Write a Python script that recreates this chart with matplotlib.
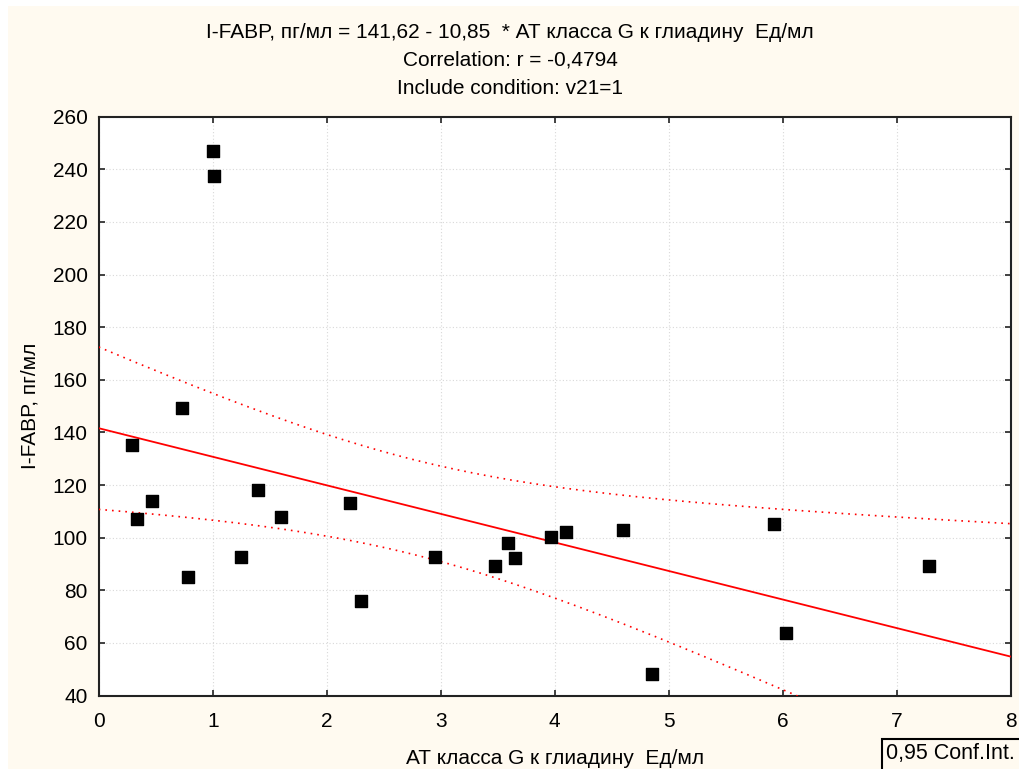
import numpy as np
import matplotlib
matplotlib.use("Agg")
import matplotlib.pyplot as plt
from matplotlib.patches import Rectangle

plt.rcParams['font.family'] = ['Liberation Sans', 'DejaVu Sans']

# data
at_gliadin = [1.00, 1.01, 0.73, 0.29, 0.34, 0.47, 0.78, 1.25, 1.40, 1.60, 2.20, 2.30,
              2.95, 3.48, 3.59, 3.65, 3.97, 4.10, 4.60, 4.85, 5.92, 6.03, 7.28]
ifabp = [246.9, 237.4, 149.3, 135.2, 107.1, 114.0, 85.1, 92.8, 118.1, 108.0, 113.1, 75.8,
         92.7, 89.4, 98.0, 92.4, 100.3, 102.0, 103.0, 48.2, 105.2, 63.9, 89.4]

intercept = 141.62
slope = -10.85
t_crit = 2.080  # t(0.975, df=21)

x = np.array(at_gliadin)
y = np.array(ifabp)
n = len(x)

# regression line and 95% confidence band
xs = np.linspace(0, 8, 200)
yfit = intercept + slope * xs
resid = y - (intercept + slope * x)
s = np.sqrt(np.sum(resid ** 2) / (n - 2))
sxx = np.sum((x - x.mean()) ** 2)
half = t_crit * s * np.sqrt(1.0 / n + (xs - x.mean()) ** 2 / sxx)

fig = plt.figure(figsize=(10.2, 7.69), dpi=100)
fig.patch.set_facecolor('white')
fig.patches.append(Rectangle((8 / 1020, 0), 1, 1 - 6 / 769, transform=fig.transFigure,
                             facecolor='#fffaf0', edgecolor='none', zorder=-5))

ax = fig.add_axes([98.7 / 1020, 73.4 / 769, 912 / 1020, 578.9 / 769])
ax.set_facecolor('white')

ax.plot(xs, yfit, color='red', lw=1.3, zorder=3)
ax.plot(xs, yfit + half, color='red', lw=1.2, ls=(0, (1, 3)), zorder=3)
ax.plot(xs, yfit - half, color='red', lw=1.2, ls=(0, (1, 3)), zorder=3)
ax.scatter(x, y, marker='s', s=70, color='black', zorder=4, clip_on=False)

ax.set_xlim(0, 8)
ax.set_ylim(40, 260)
ax.set_xticks(range(0, 9))
ax.set_yticks(range(40, 261, 20))
ax.grid(True, color='#d8d8d8', ls=(0, (1, 2)), lw=0.8)
ax.set_axisbelow(True)
ax.tick_params(direction='in', length=4, width=1.2, top=True, right=True,
               labelsize=15, color='#222222')
ax.tick_params(axis='x', pad=12)
ax.tick_params(axis='y', pad=8)
for sp in ax.spines.values():
    sp.set_linewidth(1.5)
    sp.set_color('#222222')

ax.set_xlabel('АТ класса G к глиадину  Ед/мл', fontsize=15, labelpad=13)
ax.set_ylabel('I-FABP, пг/мл', fontsize=15, labelpad=9)

fig.text(0.5, 1 - 32 / 769, 'I-FABP, пг/мл = 141,62 - 10,85  * АТ класса G к глиадину  Ед/мл',
         ha='center', va='center', fontsize=15)
fig.text(0.5, 1 - 60 / 769, 'Correlation: r = -0,4794', ha='center', va='center', fontsize=15)
fig.text(0.5, 1 - 88 / 769, 'Include condition: v21=1', ha='center', va='center', fontsize=15)

# legend box, cut off at the figure edge like the original
fig.patches.append(Rectangle((882 / 1020, -0.05), 0.2, 0.05 + 30 / 769, transform=fig.transFigure,
                             facecolor='none', edgecolor='black', lw=1.5))
fig.text(886 / 1020, 1 - 753 / 769, '0,95 Conf.Int.', ha='left', va='center', fontsize=15.5)

fig.savefig('out.png', dpi=100)
